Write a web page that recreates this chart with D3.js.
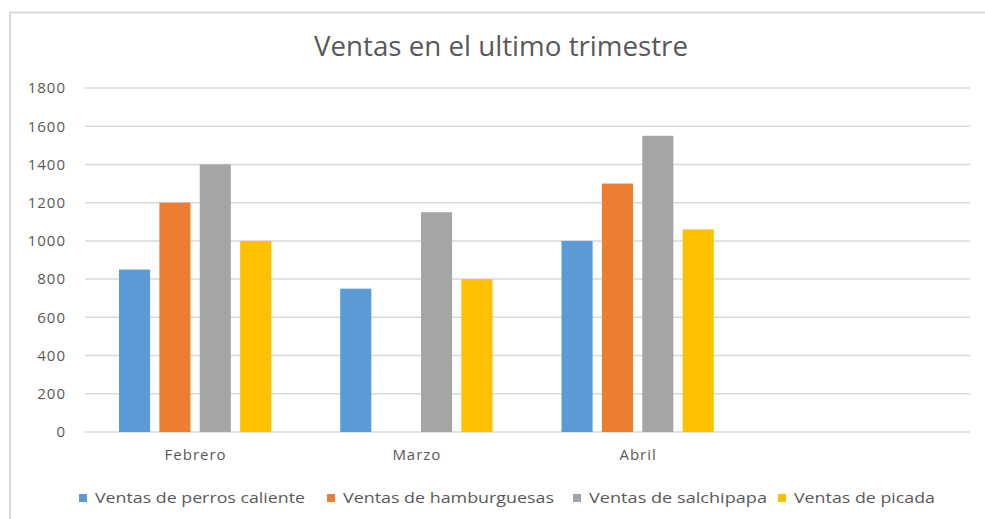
<!DOCTYPE html>
<html>
<head>
<meta charset="utf-8">
<title>Ventas en el ultimo trimestre</title>
<script src="https://cdnjs.cloudflare.com/ajax/libs/d3/7.8.5/d3.min.js"></script>
<style>
  body { margin: 0; background: #fff; }
  svg { display: block; font-family: "Open Sans", "Noto Sans", sans-serif; }
</style>
</head>
<body>
<div id="chart"></div>
<script>
var months = ["Febrero", "Marzo", "Abril", ""];
var seriesNames = ["Ventas de perros caliente", "Ventas de hamburguesas", "Ventas de salchipapa", "Ventas de picada"];
var perros = [850, 750, 1000, null];
var hamburguesas = [1200, null, 1300, null];
var salchipapa = [1400, 1150, 1550, null];
var picada = [1000, 800, 1060, null];
var yTicks = [0, 200, 400, 600, 800, 1000, 1200, 1400, 1600, 1800];
var colors = ["#5b9bd5", "#ed7d31", "#a5a5a5", "#ffc000"];

var allSeries = [perros, hamburguesas, salchipapa, picada];

var width = 985, height = 519;
var svg = d3.select("#chart").append("svg")
    .attr("width", width)
    .attr("height", height);

// chart frame
svg.append("rect")
    .attr("x", 10).attr("y", 12.5)
    .attr("width", 990).attr("height", 520)
    .style("fill", "none")
    .style("stroke", "#d9d9d9")
    .style("stroke-width", 2);

svg.append("text")
    .attr("x", 501).attr("y", 56)
    .attr("text-anchor", "middle")
    .attr("textLength", 374)
    .attr("lengthAdjust", "spacingAndGlyphs")
    .style("font-size", "27px")
    .style("fill", "#595959")
    .text("Ventas en el ultimo trimestre");

var plotLeft = 85, plotRight = 970, plotTop = 88, plotBottom = 432;

var x = d3.scaleBand().domain(d3.range(months.length)).range([plotLeft, plotRight]);
var y = d3.scaleLinear().domain([0, 1800]).range([plotBottom, plotTop]);

// gridlines
svg.selectAll(".grid")
    .data(yTicks)
    .enter()
    .append("line")
    .attr("x1", plotLeft).attr("x2", plotRight)
    .attr("y1", function(d){ return y(d); })
    .attr("y2", function(d){ return y(d); })
    .style("stroke", "#d9d9d9")
    .style("stroke-width", 1.5);

var yAxis = svg.append("g")
    .attr("transform", "translate(" + (plotLeft - 19) + ",0)")
    .call(d3.axisLeft(y).tickValues(yTicks).tickSize(0).tickPadding(0).tickFormat(d3.format("d")));
yAxis.select(".domain").remove();
yAxis.selectAll("text")
    .style("font-size", "15px")
    .style("letter-spacing", "1px")
    .style("fill", "#595959")
    .style("font-family", "'Open Sans', sans-serif");

var xAxis = svg.append("g")
    .attr("transform", "translate(0," + plotBottom + ")")
    .call(d3.axisBottom(x).tickSize(0).tickPadding(17).tickFormat(function(i){ return months[i]; }));
xAxis.select(".domain").remove();
xAxis.selectAll("text")
    .style("font-size", "15px")
    .style("letter-spacing", "1px")
    .style("fill", "#595959")
    .style("font-family", "'Open Sans', sans-serif");

// bars inside each month
var inner = d3.scaleBand().domain(d3.range(seriesNames.length))
    .range([34, x.bandwidth() - 35])
    .paddingInner(0.23);

allSeries.forEach(function(values, s){
    svg.selectAll(".bar" + s)
        .data(values.map(function(v, i){ return {v: v, i: i}; }).filter(function(d){ return d.v != null; }))
        .enter()
        .append("rect")
        .attr("x", function(d){ return x(d.i) + inner(s); })
        .attr("y", function(d){ return y(d.v); })
        .attr("width", inner.bandwidth())
        .attr("height", function(d){ return plotBottom - y(d.v); })
        .style("fill", colors[s]);
});

// legend
var legendX = [79, 327, 573, 778];
var legendW = [210, 211, 178, 141];
var legend = svg.selectAll(".legend")
    .data(seriesNames)
    .enter()
    .append("g")
    .attr("transform", function(d, i){ return "translate(" + legendX[i] + ",494)"; });
legend.append("rect")
    .attr("width", 8).attr("height", 8)
    .style("fill", function(d, i){ return colors[i]; });
legend.append("text")
    .attr("x", 16).attr("y", 9)
    .attr("textLength", function(d, i){ return legendW[i]; })
    .attr("lengthAdjust", "spacingAndGlyphs")
    .style("font-size", "14px")
    .style("fill", "#595959")
    .text(function(d){ return d; });
</script>
</body>
</html>
